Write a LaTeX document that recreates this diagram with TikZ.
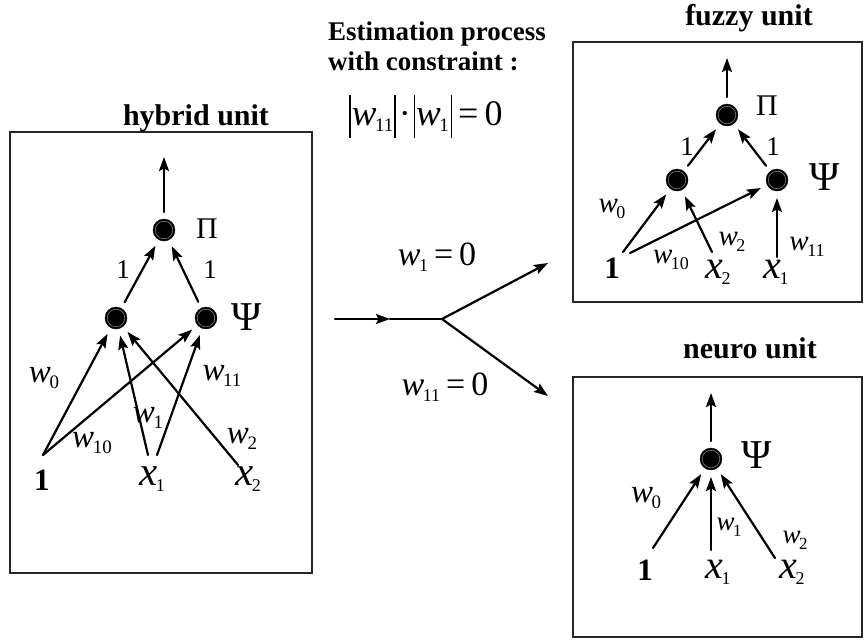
\documentclass[tikz,border=0pt]{standalone}
\usepackage{fontspec}
\setmainfont{Liberation Serif}
\usetikzlibrary{arrows.meta}
\newcommand{\fs}[1]{\fontsize{#1}{#1}\selectfont}
\newcommand{\vr}[4]{{\fs{#3}\itshape #1}\kern-1.5pt\raisebox{-6pt}{\fs{#4}#2}}
\newcommand{\vbarr}{\rule[-13pt]{1.4pt}{43pt}}
\begin{document}
\begin{tikzpicture}[x=1pt,y=-1pt,
  unit/.style={circle, fill=black, draw=black, minimum size=22pt, inner sep=0pt, outer sep=7pt,
    path picture={\draw[black!45, line width=0.5pt] (path picture bounding box.center) circle (8.8pt);}},
  conn/.style={line width=2.2pt, line cap=round, -{Stealth[length=14pt,width=10pt,inset=2.5pt]}},
  plainline/.style={line width=2.2pt, line cap=round},
  frame/.style={draw=black!85, line width=1.5pt},
  txt/.style={inner sep=0pt, anchor=base},
  ttl/.style={inner sep=0pt, anchor=base, font=\fs{30}\bfseries},
  one/.style={inner sep=0pt, anchor=base, font=\fs{27}},
  bone/.style={inner sep=0pt, anchor=base, font=\fs{31}\bfseries},
  psil/.style={inner sep=0pt, anchor=base, font=\fs{41}},
  pil/.style={inner sep=0pt, anchor=base, font=\fs{30}}]
\useasboundingbox (0,0) rectangle (865,641);
\fill[white] (0,0) rectangle (865,641);

% ---------------- hybrid unit ----------------
\draw[frame] (10,132) rectangle (312,573);
\node[ttl] (htitle) at (196,125) {hybrid unit};
\node[unit] (hpi) at (164,230) {};
\node[unit] (hpsiL) at (116,318) {};
\node[unit] (hpsiR) at (206,318) {};
\coordinate (hout) at (164,157);
\node[pil] (hpilab) at (207,238) {Π};
\node[psil] (hpsilab) at (247,330) {Ψ};
\node[one] (hone1) at (123,278) {1};
\node[one] (hone2) at (210,278) {1};
\node[bone] (hin1) at (42,490) {1};
\node[txt] (hx1) at (152,485) {\vr{x}{1}{41}{18}};
\node[txt] (hx2) at (248,485) {\vr{x}{2}{41}{18}};
\coordinate (h1a) at (43,455);
\coordinate (hx1a) at (148,455);
\coordinate (hx1b) at (157,455);
\coordinate (hx2a) at (238,465);
\draw[conn] (hpi) -- (hout);
\draw[conn] (hpsiL) -- (hpi);
\draw[conn] (hpsiR) -- (hpi);
\draw[conn] (h1a) -- (hpsiL);
\draw[conn] (h1a) -- (hpsiR);
\draw[conn] (hx1a) -- (hpsiL);
\draw[conn] (hx1b) -- (hpsiR);
\draw[conn] (hx2a) -- (hpsiL);
\node[txt] (hw0) at (44,382) {\vr{w}{0}{33}{19}};
\node[txt] (hw10) at (92,447) {\vr{w}{10}{33}{19}};
\node[txt] (hw1) at (148,422) {\vr{w}{1}{33}{19}};
\node[txt] (hw11) at (222,380) {\vr{w}{11}{33}{19}};
\node[txt] (hw2) at (242,443) {\vr{w}{2}{33}{19}};

% ---------------- middle ----------------
\node[inner sep=0pt, anchor=base west, font=\fs{27}\bfseries] (est1) at (328,40) {Estimation process};
\node[inner sep=0pt, anchor=base west, font=\fs{27}\bfseries] (est2) at (328,70) {with constraint :};
\node[txt, font=\fs{36}] (formula) at (426,125)
  {\vbarr\kern1pt\vr{w}{11}{37}{19}\kern1pt\vbarr\kern3pt·\kern3pt\vbarr\kern1pt\vr{w}{1}{37}{19}\kern2pt\vbarr\kern6pt=\kern6pt0};
\node[txt, font=\fs{34}] (c1) at (437,265) {\vr{w}{1}{34}{18}\kern6pt=\kern6pt0};
\node[txt, font=\fs{34}] (c2) at (445,395) {\vr{w}{11}{34}{18}\kern6pt=\kern6pt0};
\coordinate (ms) at (335,319);
\coordinate (mm) at (390,319);
\coordinate (mb) at (442,319);
\coordinate (mup) at (548,263);
\coordinate (mdn) at (548,396);
\draw[conn] (ms) -- (mm);
\draw[plainline] (mm) -- (mb);
\draw[conn] (mb) -- (mup);
\draw[conn] (mb) -- (mdn);

% ---------------- fuzzy unit ----------------
\draw[frame] (573,42) rectangle (862,302);
\node[ttl] (ftitle) at (749,25) {fuzzy unit};
\node[unit] (fpi) at (727,115) {};
\node[unit] (fpsiL) at (677,180) {};
\node[unit] (fpsiR) at (777,180) {};
\coordinate (fout) at (727,58);
\node[pil] (fpilab) at (767,115) {Π};
\node[psil] (fpsilab) at (825,190) {Ψ};
\node[one] (fone1) at (687,155) {1};
\node[one] (fone2) at (773,155) {1};
\node[bone] (fin1) at (612,278) {1};
\node[txt] (fx2) at (718,278) {\vr{x}{2}{40}{18}};
\node[txt] (fx1) at (776,278) {\vr{x}{1}{40}{18}};
\coordinate (f1a) at (623,252);
\coordinate (f1b) at (630,253);
\coordinate (fx2a) at (712,252);
\coordinate (fx1a) at (777,257);
\draw[conn] (fpi) -- (fout);
\draw[conn] (fpsiL) -- (fpi);
\draw[conn] (fpsiR) -- (fpi);
\draw[conn] (f1a) -- (fpsiL);
\draw[conn] (f1b) -- (fpsiR);
\draw[conn] (fx2a) -- (fpsiL);
\draw[conn] (fx1a) -- (fpsiR);
\node[txt] (fw0) at (612,212) {\vr{w}{0}{29}{18}};
\node[txt] (fw10) at (671,263) {\vr{w}{10}{29}{18}};
\node[txt] (fw2) at (732,245) {\vr{w}{2}{29}{18}};
\node[txt] (fw11) at (807,250) {\vr{w}{11}{29}{18}};

% ---------------- neuro unit ----------------
\draw[frame] (573,377) rectangle (862,637);
\node[ttl] (ntitle) at (750,358) {neuro unit};
\node[unit] (npsi) at (711,459) {};
\coordinate (nout) at (711,393);
\node[psil] (npsilab) at (757,468) {Ψ};
\node[bone] (nin1) at (645,580) {1};
\node[txt] (nx1) at (718,578) {\vr{x}{1}{40}{18}};
\node[txt] (nx2) at (792,578) {\vr{x}{2}{40}{18}};
\coordinate (n1a) at (653,548);
\coordinate (nx1a) at (711,550);
\coordinate (nx2a) at (775,558);
\draw[conn] (npsi) -- (nout);
\draw[conn] (n1a) -- (npsi);
\draw[conn] (nx1a) -- (npsi);
\draw[conn] (nx2a) -- (npsi);
\node[txt] (nw0) at (646,502) {\vr{w}{0}{33}{19}};
\node[txt] (nw1) at (729,530) {\vr{w}{1}{27}{17}};
\node[txt] (nw2) at (795,543) {\vr{w}{2}{27}{17}};
\end{tikzpicture}
\end{document}
